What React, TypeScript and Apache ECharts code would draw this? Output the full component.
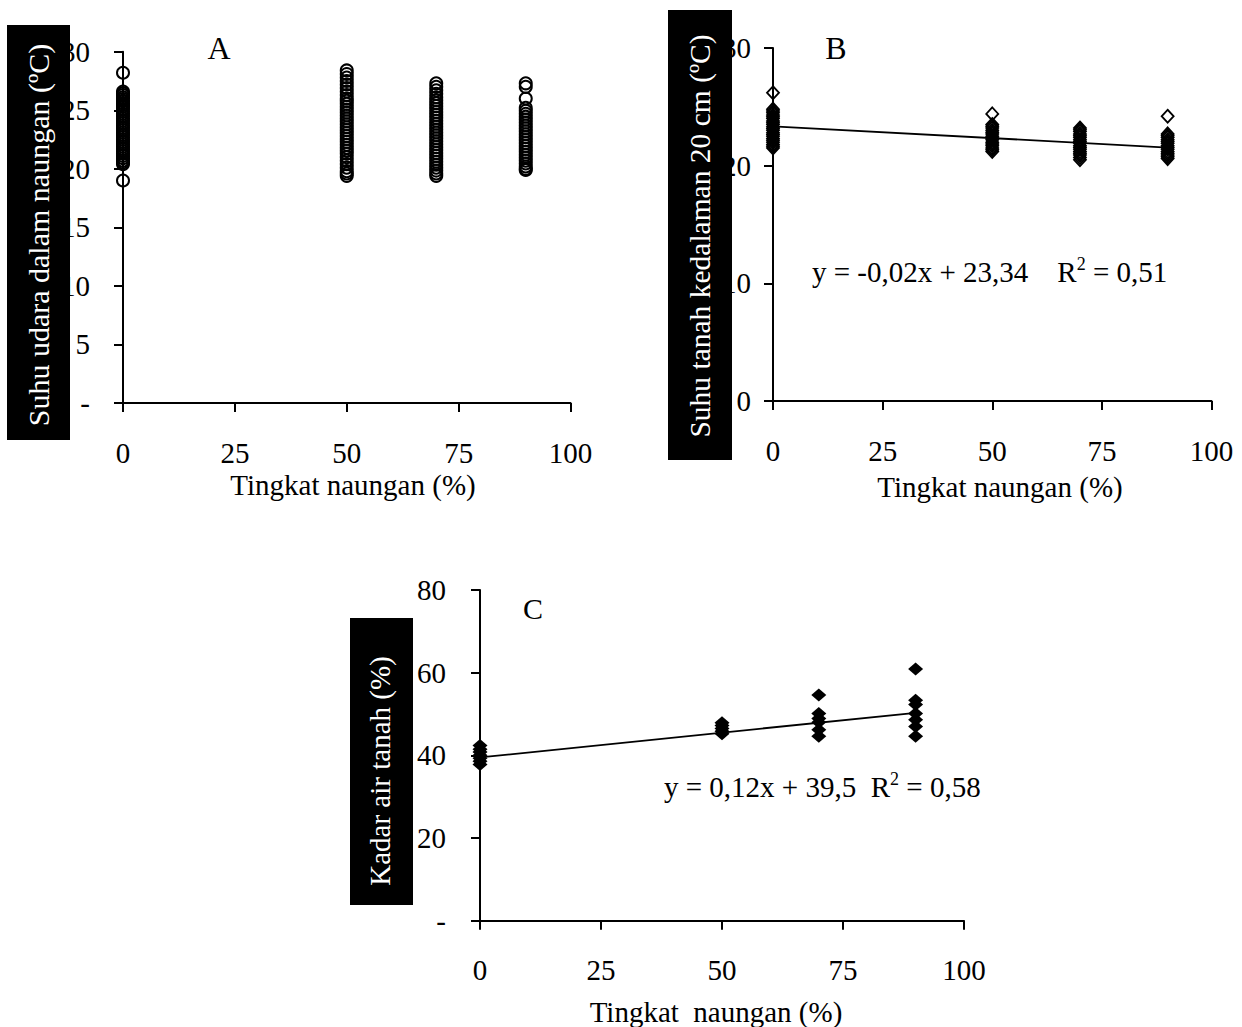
import React, { useEffect, useRef } from "react";
import * as echarts from "echarts";

// Shade levels (x)
const shadeLevels = [0, 50, 70, 90];

// Panel A: air temperature under shade (°C)
const airTemp0 = [28.2, 26.6, 26.45, 26.3, 26.1, 25.95, 25.8, 25.6, 25.45, 25.3, 25.1, 24.9, 24.7, 24.5, 24.3, 24.1, 23.9, 23.7, 23.5, 23.3, 23.1, 22.9, 22.7, 22.5, 22.3, 22.1, 21.9, 21.7, 21.5, 21.3, 21.1, 20.9, 20.7, 20.55, 20.4, 19.0];
const airTemp50 = [28.4, 28.1, 27.8, 27.5, 27.2, 26.9, 26.6, 26.3, 26.0, 25.8, 25.55, 25.3, 25.05, 24.8, 24.55, 24.3, 24.05, 23.8, 23.55, 23.3, 23.05, 22.8, 22.55, 22.3, 22.05, 21.8, 21.55, 21.3, 21.0, 20.7, 20.4, 20.1, 19.8, 19.6, 19.4];
const airTemp70 = [27.3, 27.0, 26.7, 26.4, 26.1, 25.85, 25.6, 25.35, 25.1, 24.85, 24.6, 24.35, 24.1, 23.85, 23.6, 23.35, 23.1, 22.85, 22.6, 22.35, 22.1, 21.85, 21.6, 21.35, 21.1, 20.85, 20.6, 20.35, 20.1, 19.85, 19.6, 19.4];
const airTemp90 = [27.3, 27.0, 26.0, 25.2, 24.95, 24.7, 24.45, 24.2, 23.95, 23.7, 23.45, 23.2, 22.95, 22.7, 22.45, 22.2, 21.95, 21.7, 21.45, 21.2, 20.95, 20.7, 20.45, 20.2, 20.0, 19.9];

// Panel B: soil temperature at 20 cm (°C)
const soilTemp0 = [26.2, 24.8, 24.65, 24.5, 24.3, 24.15, 24.0, 23.8, 23.65, 23.5, 23.3, 23.15, 23.0, 22.8, 22.65, 22.5, 22.3, 22.15, 22.0, 21.8, 21.65, 21.5];
const soilTemp50 = [24.4, 23.5, 23.35, 23.2, 23.0, 22.85, 22.7, 22.5, 22.35, 22.2, 22.0, 21.85, 21.7, 21.5, 21.35, 21.2];
const soilTemp70 = [23.2, 23.05, 22.9, 22.7, 22.55, 22.4, 22.2, 22.05, 21.9, 21.7, 21.55, 21.4, 21.2, 21.05, 20.9, 20.7, 20.5];
const soilTemp90 = [24.2, 22.7, 22.55, 22.4, 22.2, 22.05, 21.9, 21.7, 21.55, 21.4, 21.2, 21.05, 20.9, 20.75, 20.6];
const trendB = [[0, 23.34], [90, 21.54]];

// Panel C: soil water content (%)
const moisture0 = [42.4, 41.5, 40.8, 40.0, 39.3, 38.6, 37.8];
const moisture50 = [47.9, 47.2, 46.5, 45.8, 45.2];
const moisture70 = [54.6, 50.1, 48.9, 48.0, 46.2, 44.6];
const moisture90 = [60.9, 53.3, 52.3, 50.1, 48.6, 47.0, 44.6];
const trendC = [[0, 39.5], [90, 50.3]];

const FONT = '"Liberation Serif", "Times New Roman", serif';

function pairs(groups: number[][]) {
  const out: number[][] = [];
  groups.forEach((g, i) => g.forEach((v) => out.push([shadeLevels[i], v])));
  return out;
}

export default function App() {
  const ref = useRef<HTMLDivElement>(null);
  useEffect(() => {
    if (!ref.current) return;
    const chart = echarts.init(ref.current, undefined, { renderer: "svg" });

    const axisLine = { show: true, lineStyle: { color: "#000", width: 2 } };
    const axisTick = { show: true, inside: false, length: 9, lineStyle: { color: "#000", width: 2 } };
    const lblBase = { color: "#000", fontFamily: FONT, fontSize: 29 };

    const mkX = (gridIndex: number) => ({
      type: "value",
      gridIndex,
      min: 0,
      max: 100,
      interval: 25,
      axisLine,
      axisTick,
      splitLine: { show: false },
      axisLabel: { ...lblBase, margin: 35 },
    });
    const dashZero = (v: number) => (v === 0 ? "-" : String(v));

    const option: any = {
      animation: false,
      backgroundColor: "#fff",
      grid: [
        { left: 123, top: 51.7, width: 447.5, height: 351.3 },
        { left: 773, top: 48, width: 438.5, height: 353 },
        { left: 480, top: 590, width: 484, height: 330.7 },
      ],
      xAxis: [mkX(0), mkX(1), mkX(2)],
      yAxis: [
        {
          type: "value", gridIndex: 0, min: 0, max: 30, interval: 5,
          axisLine, axisTick, splitLine: { show: false },
          axisLabel: { ...lblBase, margin: 33, formatter: dashZero },
        },
        {
          type: "value", gridIndex: 1, min: 0, max: 30, interval: 10,
          axisLine, axisTick, splitLine: { show: false },
          axisLabel: { ...lblBase, margin: 22 },
        },
        {
          type: "value", gridIndex: 2, min: 0, max: 80, interval: 20,
          axisLine, axisTick, splitLine: { show: false },
          axisLabel: { ...lblBase, margin: 34, formatter: dashZero },
        },
      ],
      series: [
        {
          type: "scatter", xAxisIndex: 0, yAxisIndex: 0, clip: false,
          symbol: "circle", symbolSize: 12,
          itemStyle: { color: "rgba(0,0,0,0)", borderColor: "#000", borderWidth: 2, opacity: 1 },
          data: pairs([airTemp0, airTemp50, airTemp70, airTemp90]),
          z: 3,
        },
        {
          type: "line", xAxisIndex: 1, yAxisIndex: 1, data: trendB,
          showSymbol: false, symbol: "none",
          lineStyle: { color: "#000", width: 1.8 }, z: 2,
        },
        {
          type: "scatter", xAxisIndex: 1, yAxisIndex: 1, clip: false,
          symbol: "diamond", symbolSize: [12, 13],
          itemStyle: { color: "rgba(0,0,0,0)", borderColor: "#000", borderWidth: 1.8, opacity: 1 },
          data: pairs([soilTemp0, soilTemp50, soilTemp70, soilTemp90]),
          z: 3,
        },
        {
          type: "line", xAxisIndex: 2, yAxisIndex: 2, data: trendC,
          showSymbol: false, symbol: "none",
          lineStyle: { color: "#000", width: 1.8 }, z: 2,
        },
        {
          type: "scatter", xAxisIndex: 2, yAxisIndex: 2, clip: false,
          symbol: "diamond", symbolSize: [15, 13],
          itemStyle: { color: "#000", opacity: 1 },
          data: pairs([moisture0, moisture50, moisture70, moisture90]),
          z: 3,
        },
      ],
      graphic: [
        // black title boxes
        { type: "rect", z: 50, shape: { x: 7, y: 25, width: 63, height: 415 }, style: { fill: "#000" } },
        { type: "rect", z: 50, shape: { x: 668, y: 10, width: 64, height: 450 }, style: { fill: "#000" } },
        { type: "rect", z: 50, shape: { x: 350, y: 618, width: 63, height: 287 }, style: { fill: "#000" } },
        {
          type: "text", z: 51, x: 38, y: 235, rotation: Math.PI / 2,
          style: { text: "Suhu udara dalam naungan (ºC)", fill: "#fff", fontFamily: FONT, fontSize: 30, align: "center", verticalAlign: "middle" },
        },
        {
          type: "text", z: 51, x: 700, y: 236, rotation: Math.PI / 2,
          style: { text: "Suhu tanah kedalaman 20 cm (ºC)", fill: "#fff", fontFamily: FONT, fontSize: 29.5, align: "center", verticalAlign: "middle" },
        },
        {
          type: "text", z: 51, x: 380, y: 771, rotation: Math.PI / 2,
          style: { text: "Kadar air tanah (%)", fill: "#fff", fontFamily: FONT, fontSize: 29, align: "center", verticalAlign: "middle" },
        },
        // panel letters
        { type: "text", z: 51, x: 219, y: 48, style: { text: "A", fill: "#000", fontFamily: FONT, fontSize: 32, align: "center", verticalAlign: "middle" } },
        { type: "text", z: 51, x: 836, y: 48, style: { text: "B", fill: "#000", fontFamily: FONT, fontSize: 32, align: "center", verticalAlign: "middle" } },
        { type: "text", z: 51, x: 533, y: 608, style: { text: "C", fill: "#000", fontFamily: FONT, fontSize: 30, align: "center", verticalAlign: "middle" } },
        // axis names
        { type: "text", z: 51, x: 353, y: 485, style: { text: "Tingkat naungan (%)", fill: "#000", fontFamily: FONT, fontSize: 29, align: "center", verticalAlign: "middle" } },
        { type: "text", z: 51, x: 1000, y: 487, style: { text: "Tingkat naungan (%)", fill: "#000", fontFamily: FONT, fontSize: 29, align: "center", verticalAlign: "middle" } },
        { type: "text", z: 51, x: 716, y: 1012, style: { text: "Tingkat  naungan (%)", fill: "#000", fontFamily: FONT, fontSize: 29, align: "center", verticalAlign: "middle" } },
        // regression equations
        {
          type: "text", z: 51, x: 812, y: 272,
          style: {
            text: "{a|y = -0,02x + 23,34    R}{s|2}{a| = 0,51}",
            fill: "#000", fontFamily: FONT, fontSize: 29, align: "left", verticalAlign: "middle",
            rich: {
              a: { fontFamily: FONT, fontSize: 29, lineHeight: 34, fill: "#000" },
              s: { fontFamily: FONT, fontSize: 18, lineHeight: 34, verticalAlign: "top", fill: "#000" },
            },
          },
        },
        {
          type: "text", z: 51, x: 664, y: 787,
          style: {
            text: "{a|y = 0,12x + 39,5  R}{s|2}{a| = 0,58}",
            fill: "#000", fontFamily: FONT, fontSize: 29, align: "left", verticalAlign: "middle",
            rich: {
              a: { fontFamily: FONT, fontSize: 29, lineHeight: 34, fill: "#000" },
              s: { fontFamily: FONT, fontSize: 18, lineHeight: 34, verticalAlign: "top", fill: "#000" },
            },
          },
        },
      ],
    };
    chart.setOption(option);
    return () => chart.dispose();
  }, []);

  return (
    <div
      ref={ref}
      style={{ position: "absolute", left: 0, top: 0, width: 1242, height: 1027, background: "#fff" }}
    />
  );
}
